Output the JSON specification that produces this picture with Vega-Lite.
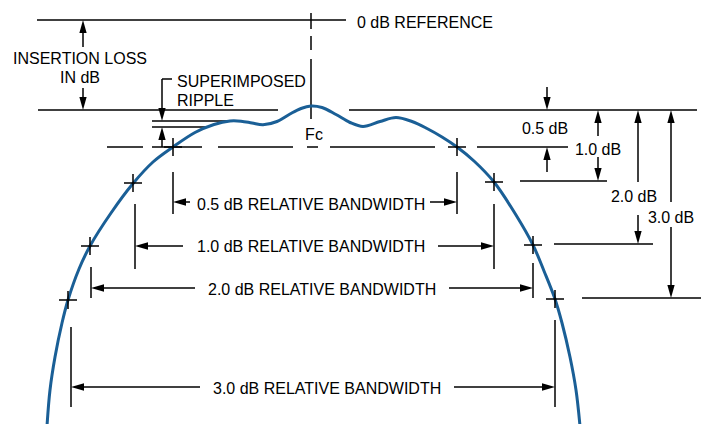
{
  "$schema": "https://vega.github.io/schema/vega-lite/v6.json",
  "width": 707,
  "height": 424,
  "autosize": {"type": "fit", "contains": "padding"},
  "padding": 0,
  "background": "white",
  "config": {"view": {"stroke": null}},
  "datasets": {
    "segs": [
      {"x": 37, "x2": 346, "y": 20, "y2": 20},
      {"x": 38, "x2": 278, "y": 110, "y2": 110},
      {"x": 349, "x2": 697, "y": 110, "y2": 110},
      {"x": 152, "x2": 228, "y": 121, "y2": 121},
      {"x": 152, "x2": 208, "y": 127, "y2": 127},
      {"x": 520, "x2": 607, "y": 181, "y2": 181},
      {"x": 554, "x2": 653, "y": 244, "y2": 244},
      {"x": 582, "x2": 701, "y": 298, "y2": 298},
      {"x": 107, "x2": 143, "y": 147, "y2": 147},
      {"x": 152, "x2": 202, "y": 147, "y2": 147},
      {"x": 218, "x2": 293, "y": 147, "y2": 147},
      {"x": 307, "x2": 318, "y": 147, "y2": 147},
      {"x": 330, "x2": 435, "y": 147, "y2": 147},
      {"x": 477, "x2": 568, "y": 147, "y2": 147},
      {"x": 311, "x2": 311, "y": 13, "y2": 29},
      {"x": 311, "x2": 311, "y": 36, "y2": 50},
      {"x": 311, "x2": 311, "y": 59, "y2": 119},
      {"x": 162, "x2": 172, "y": 79, "y2": 79},
      {"x": 173, "x2": 173, "y": 172, "y2": 214},
      {"x": 457, "x2": 457, "y": 172, "y2": 214},
      {"x": 135, "x2": 135, "y": 204, "y2": 269},
      {"x": 494, "x2": 494, "y": 204, "y2": 269},
      {"x": 91, "x2": 91, "y": 267, "y2": 298},
      {"x": 533, "x2": 533, "y": 263, "y2": 298},
      {"x": 71, "x2": 71, "y": 327, "y2": 407},
      {"x": 555, "x2": 555, "y": 320, "y2": 407},
      {"x": 83, "x2": 83, "y": 24, "y2": 47},
      {"x": 83, "x2": 83, "y": 88, "y2": 106},
      {"x": 162, "x2": 162, "y": 79, "y2": 117},
      {"x": 162, "x2": 162, "y": 131, "y2": 147},
      {"x": 547, "x2": 547, "y": 87, "y2": 106},
      {"x": 547, "x2": 547, "y": 151, "y2": 172},
      {"x": 598, "x2": 598, "y": 114, "y2": 136},
      {"x": 598, "x2": 598, "y": 157, "y2": 177},
      {"x": 638, "x2": 638, "y": 114, "y2": 182},
      {"x": 638, "x2": 638, "y": 215, "y2": 240},
      {"x": 671, "x2": 671, "y": 114, "y2": 202},
      {"x": 671, "x2": 671, "y": 227, "y2": 294},
      {"x": 177, "x2": 190, "y": 202, "y2": 202},
      {"x": 430, "x2": 453, "y": 202, "y2": 202},
      {"x": 139, "x2": 183, "y": 246, "y2": 246},
      {"x": 438, "x2": 490, "y": 246, "y2": 246},
      {"x": 95, "x2": 195, "y": 288, "y2": 288},
      {"x": 449, "x2": 529, "y": 288, "y2": 288},
      {"x": 75, "x2": 200, "y": 387, "y2": 387},
      {"x": 454, "x2": 551, "y": 387, "y2": 387}
    ],
    "heads": [
      {"x": 83, "y": 20, "a": 0},
      {"x": 83, "y": 110, "a": 180},
      {"x": 162, "y": 121, "a": 180},
      {"x": 162, "y": 127, "a": 0},
      {"x": 547, "y": 110, "a": 180},
      {"x": 547, "y": 147, "a": 0},
      {"x": 598, "y": 110, "a": 0},
      {"x": 598, "y": 181, "a": 180},
      {"x": 638, "y": 110, "a": 0},
      {"x": 638, "y": 244, "a": 180},
      {"x": 671, "y": 110, "a": 0},
      {"x": 671, "y": 298, "a": 180},
      {"x": 173, "y": 202, "a": 270},
      {"x": 457, "y": 202, "a": 90},
      {"x": 135, "y": 246, "a": 270},
      {"x": 494, "y": 246, "a": 90},
      {"x": 91, "y": 288, "a": 270},
      {"x": 533, "y": 288, "a": 90},
      {"x": 71, "y": 387, "a": 270},
      {"x": 555, "y": 387, "a": 90}
    ],
    "cross": [
      {"x": 173, "y": 147},
      {"x": 457, "y": 147},
      {"x": 133, "y": 183},
      {"x": 494, "y": 182},
      {"x": 90, "y": 246},
      {"x": 533, "y": 245},
      {"x": 68, "y": 300},
      {"x": 555, "y": 299}
    ],
    "curve": [
      {"x": 47, "y": 426},
      {"x": 50, "y": 390},
      {"x": 55, "y": 357},
      {"x": 62, "y": 323},
      {"x": 68, "y": 300},
      {"x": 79, "y": 269},
      {"x": 90, "y": 246},
      {"x": 111, "y": 213},
      {"x": 133, "y": 183.5},
      {"x": 153, "y": 162},
      {"x": 173, "y": 147},
      {"x": 195, "y": 132.5},
      {"x": 214, "y": 124.5},
      {"x": 230, "y": 121},
      {"x": 241, "y": 121.2},
      {"x": 252, "y": 123},
      {"x": 263, "y": 124.8},
      {"x": 277, "y": 121.5},
      {"x": 290, "y": 114},
      {"x": 301, "y": 108.5},
      {"x": 311, "y": 106},
      {"x": 322, "y": 107.5},
      {"x": 336, "y": 114.5},
      {"x": 350, "y": 122.5},
      {"x": 363, "y": 126.5},
      {"x": 380, "y": 121.5},
      {"x": 396, "y": 117.5},
      {"x": 412, "y": 121.5},
      {"x": 427, "y": 128.5},
      {"x": 442, "y": 137},
      {"x": 457, "y": 147},
      {"x": 474, "y": 161},
      {"x": 494, "y": 182},
      {"x": 516, "y": 215},
      {"x": 533, "y": 245},
      {"x": 544, "y": 271},
      {"x": 555, "y": 299},
      {"x": 562, "y": 323},
      {"x": 570, "y": 357},
      {"x": 576, "y": 390},
      {"x": 580, "y": 426}
    ],
    "labels": [
      {"t": "0 dB REFERENCE", "x": 357, "y": 22.5, "al": "left"},
      {"t": "INSERTION LOSS", "x": 80, "y": 58.8, "al": "center"},
      {"t": "IN dB", "x": 80, "y": 77.5, "al": "center"},
      {"t": "SUPERIMPOSED", "x": 177, "y": 82, "al": "left"},
      {"t": "RIPPLE", "x": 177, "y": 101, "al": "left"},
      {"t": "Fc", "x": 314, "y": 135.3, "al": "center"},
      {"t": "0.5 dB", "x": 545, "y": 128.5, "al": "center"},
      {"t": "1.0 dB", "x": 598, "y": 149.8, "al": "center"},
      {"t": "2.0 dB", "x": 634, "y": 196.8, "al": "center"},
      {"t": "3.0 dB", "x": 671, "y": 218, "al": "center"},
      {"t": "0.5 dB RELATIVE BANDWIDTH", "x": 197, "y": 204.8, "al": "left"},
      {"t": "1.0 dB RELATIVE BANDWIDTH", "x": 197, "y": 246.8, "al": "left"},
      {"t": "2.0 dB RELATIVE BANDWIDTH", "x": 208, "y": 289.8, "al": "left"},
      {"t": "3.0 dB RELATIVE BANDWIDTH", "x": 213, "y": 389, "al": "left"}
    ]
  },
  "layer": [
    {
      "data": {"name": "segs"},
      "mark": {"type": "rule", "stroke": "black", "strokeWidth": 1.5},
      "encoding": {
        "x": {"field": "x", "type": "quantitative", "scale": {"domain": [0, 707], "nice": false, "zero": false}, "axis": null},
        "x2": {"field": "x2"},
        "y": {"field": "y", "type": "quantitative", "scale": {"domain": [0, 424], "nice": false, "zero": false, "reverse": true}, "axis": null},
        "y2": {"field": "y2"}
      }
    },
    {
      "data": {"name": "curve"},
      "mark": {"type": "line", "stroke": "#1a5f96", "strokeWidth": 3, "interpolate": "catmull-rom", "clip": true},
      "encoding": {
        "x": {"field": "x", "type": "quantitative", "scale": {"domain": [0, 707], "nice": false, "zero": false}, "axis": null},
        "y": {"field": "y", "type": "quantitative", "scale": {"domain": [0, 424], "nice": false, "zero": false, "reverse": true}, "axis": null}
      }
    },
    {
      "data": {"name": "heads"},
      "mark": {"type": "point", "shape": "M0,0L0.28,1L-0.28,1Z", "size": 676, "filled": true, "fill": "black", "strokeWidth": 0, "opacity": 1},
      "encoding": {
        "x": {"field": "x", "type": "quantitative", "scale": {"domain": [0, 707], "nice": false, "zero": false}, "axis": null},
        "y": {"field": "y", "type": "quantitative", "scale": {"domain": [0, 424], "nice": false, "zero": false, "reverse": true}, "axis": null},
        "angle": {"field": "a", "type": "quantitative", "scale": null}
      }
    },
    {
      "data": {"name": "cross"},
      "mark": {"type": "point", "shape": "M-1,0L1,0M0,-1L0,1", "size": 324, "filled": false, "stroke": "black", "strokeWidth": 1.5, "opacity": 1},
      "encoding": {
        "x": {"field": "x", "type": "quantitative", "scale": {"domain": [0, 707], "nice": false, "zero": false}, "axis": null},
        "y": {"field": "y", "type": "quantitative", "scale": {"domain": [0, 424], "nice": false, "zero": false, "reverse": true}, "axis": null}
      }
    },
    {
      "data": {"name": "labels"},
      "transform": [{"filter": "datum.al === 'left'"}],
      "mark": {"type": "text", "align": "left", "baseline": "middle", "font": "Liberation Sans", "fontSize": 16, "fill": "black"},
      "encoding": {
        "x": {"field": "x", "type": "quantitative", "scale": {"domain": [0, 707], "nice": false, "zero": false}, "axis": null},
        "y": {"field": "y", "type": "quantitative", "scale": {"domain": [0, 424], "nice": false, "zero": false, "reverse": true}, "axis": null},
        "text": {"field": "t"}
      }
    },
    {
      "data": {"name": "labels"},
      "transform": [{"filter": "datum.al === 'center'"}],
      "mark": {"type": "text", "align": "center", "baseline": "middle", "font": "Liberation Sans", "fontSize": 16, "fill": "black"},
      "encoding": {
        "x": {"field": "x", "type": "quantitative", "scale": {"domain": [0, 707], "nice": false, "zero": false}, "axis": null},
        "y": {"field": "y", "type": "quantitative", "scale": {"domain": [0, 424], "nice": false, "zero": false, "reverse": true}, "axis": null},
        "text": {"field": "t"}
      }
    }
  ]
}
